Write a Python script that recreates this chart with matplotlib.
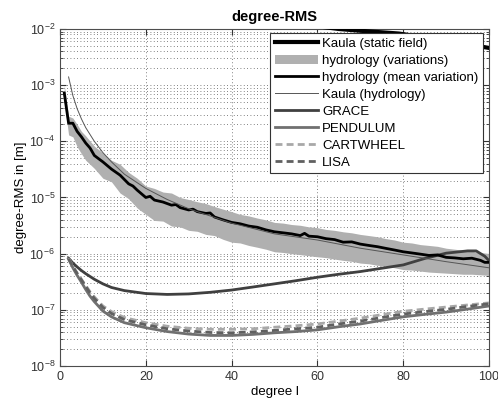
import matplotlib.pyplot as plt
import numpy as np
from matplotlib.ticker import FixedLocator, LogLocator, NullFormatter

plt.rcParams["font.family"] = ["Liberation Sans", "DejaVu Sans"]

# Kaula rule for the static field (mostly above the axes / behind legend)
kaula_static_deg = [60, 65, 70, 79, 90, 100]
kaula_static = [1.12e-2, 1.0e-2, 9.3e-3, 8.3e-3, 6.2e-3, 4.6e-3]

# hydrology mean variation
hyd_mean_deg = [1, 2, 3, 4, 5, 6, 7, 8, 9, 10, 12, 14, 16, 17, 18, 20, 21, 22, 24, 26,
                27, 28, 30, 31, 32, 34, 35, 36, 38, 40, 42, 44, 46, 48, 50, 52, 54, 56,
                57, 58, 60, 62, 64, 66, 68, 70, 72, 74, 76, 78, 80, 82, 84, 86, 88, 90,
                92, 94, 96, 98, 99, 100]
hyd_mean = [7.2e-4, 2.1e-4, 2.1e-4, 1.5e-4, 1.2e-4, 9.3e-5, 7.6e-5, 5.6e-5, 4.9e-5, 4.3e-5,
            3.2e-5, 2.5e-5, 1.75e-5, 1.6e-5, 1.35e-5, 1.0e-5, 1.05e-5, 9.0e-6, 8.3e-6, 7.3e-6,
            7.5e-6, 6.6e-6, 6.0e-6, 6.2e-6, 5.6e-6, 5.2e-6, 5.3e-6, 4.5e-6, 4.0e-6, 3.6e-6,
            3.4e-6, 3.1e-6, 2.95e-6, 2.65e-6, 2.45e-6, 2.35e-6, 2.25e-6, 2.1e-6, 2.3e-6,
            2.05e-6, 2.0e-6, 1.85e-6, 1.78e-6, 1.6e-6, 1.62e-6, 1.48e-6, 1.4e-6, 1.33e-6,
            1.24e-6, 1.16e-6, 1.08e-6, 1.03e-6, 0.98e-6, 0.93e-6, 0.95e-6, 0.86e-6,
            0.84e-6, 0.81e-6, 0.83e-6, 0.76e-6, 0.70e-6, 0.70e-6]

# hydrology variation band
band_deg = [1, 2, 3, 4, 5, 6, 8, 10, 12, 14, 16, 18, 20, 22, 24, 26, 28, 30, 32, 34, 36,
            38, 40, 42, 44, 46, 48, 50, 52, 54, 56, 58, 60, 62, 64, 66, 68, 70, 72, 74,
            76, 78, 80, 82, 84, 86, 88, 90, 92, 94, 96, 98, 100]
band_hi = [1.0e-3, 2.8e-4, 2.6e-4, 2.0e-4, 1.5e-4, 1.25e-4, 8.2e-5, 6.2e-5, 4.6e-5, 3.9e-5,
           2.8e-5, 2.2e-5, 1.6e-5, 1.45e-5, 1.25e-5, 1.2e-5, 1.0e-5, 9.2e-6, 8.4e-6, 7.8e-6,
           6.9e-6, 6.2e-6, 5.6e-6, 5.0e-6, 4.7e-6, 4.3e-6, 4.0e-6, 3.6e-6, 3.5e-6, 3.3e-6,
           3.2e-6, 3.0e-6, 2.9e-6, 2.7e-6, 2.6e-6, 2.45e-6, 2.35e-6, 2.2e-6, 2.1e-6, 2.0e-6,
           1.85e-6, 1.75e-6, 1.6e-6, 1.55e-6, 1.45e-6, 1.4e-6, 1.35e-6, 1.25e-6, 1.2e-6,
           1.15e-6, 1.1e-6, 1.05e-6, 1.0e-6]
band_lo = [5.0e-4, 1.3e-4, 1.2e-4, 8.0e-5, 6.0e-5, 4.6e-5, 3.3e-5, 2.2e-5, 1.9e-5, 1.2e-5,
           9.5e-6, 6.5e-6, 5.0e-6, 3.9e-6, 3.8e-6, 3.1e-6, 3.0e-6, 2.6e-6, 2.5e-6, 2.2e-6,
           2.1e-6, 1.8e-6, 1.6e-6, 1.55e-6, 1.4e-6, 1.3e-6, 1.2e-6, 1.08e-6, 1.05e-6, 1.0e-6,
           9.6e-7, 9.2e-7, 8.8e-7, 8.5e-7, 8.0e-7, 7.6e-7, 7.3e-7, 6.8e-7, 6.6e-7, 6.2e-7,
           6.0e-7, 5.6e-7, 5.2e-7, 5.1e-7, 4.9e-7, 4.7e-7, 4.6e-7, 4.5e-7, 4.4e-7, 4.3e-7,
           4.3e-7, 4.2e-7, 4.1e-7]

# Kaula rule for hydrology
kaula_hyd_deg = [2, 3, 4, 5, 6, 8, 10, 12, 15, 20, 25, 30, 40, 50, 60, 70, 80, 90, 100]
kaula_hyd = [1.4e-3, 6.5e-4, 3.8e-4, 2.5e-4, 1.75e-4, 1.0e-4, 6.3e-5, 4.3e-5, 2.6e-5,
             1.45e-5, 9.2e-6, 6.3e-6, 3.5e-6, 2.25e-6, 1.75e-6, 1.25e-6, 9.5e-7, 7.2e-7, 5.6e-7]

# GRACE
grace_deg = [2, 3, 4, 5, 6, 8, 10, 12, 15, 20, 25, 30, 35, 40, 45, 50, 55, 60, 65, 70,
             75, 80, 85, 90, 95, 97, 99, 100]
grace = [8.3e-7, 6.8e-7, 5.8e-7, 5.0e-7, 4.4e-7, 3.5e-7, 2.9e-7, 2.5e-7, 2.2e-7, 1.95e-7,
         1.88e-7, 1.92e-7, 2.05e-7, 2.25e-7, 2.55e-7, 2.9e-7, 3.3e-7, 3.8e-7, 4.3e-7, 4.8e-7,
         5.5e-7, 6.3e-7, 8.2e-7, 1.02e-6, 1.12e-6, 1.12e-6, 9.0e-7, 7.5e-7]

# gradiometer missions
sat_deg = [2, 3, 4, 5, 6, 7, 8, 10, 12, 15, 20, 25, 30, 35, 40, 45, 50, 55, 60, 65, 70,
           75, 80, 85, 90, 95, 100]
pendulum = [8.0e-7, 5.6e-7, 4.1e-7, 3.1e-7, 2.3e-7, 1.75e-7, 1.4e-7, 9.5e-8, 7.5e-8, 5.9e-8,
            4.8e-8, 4.1e-8, 3.7e-8, 3.5e-8, 3.5e-8, 3.65e-8, 3.9e-8, 4.1e-8, 4.4e-8, 5.0e-8,
            5.6e-8, 6.5e-8, 7.5e-8, 8.3e-8, 9.1e-8, 1.03e-7, 1.17e-7]
cartwheel = [8.2e-7, 6.0e-7, 4.5e-7, 3.5e-7, 2.7e-7, 2.1e-7, 1.7e-7, 1.17e-7, 9.3e-8, 7.3e-8,
             5.9e-8, 5.1e-8, 4.7e-8, 4.5e-8, 4.5e-8, 4.6e-8, 4.9e-8, 5.2e-8, 5.6e-8, 6.3e-8,
             7.1e-8, 8.2e-8, 9.4e-8, 1.03e-7, 1.12e-7, 1.22e-7, 1.33e-7]
lisa = [8.1e-7, 5.9e-7, 4.4e-7, 3.4e-7, 2.6e-7, 2.0e-7, 1.6e-7, 1.1e-7, 8.6e-8, 6.7e-8,
        5.4e-8, 4.6e-8, 4.2e-8, 3.95e-8, 3.9e-8, 4.05e-8, 4.3e-8, 4.6e-8, 4.9e-8, 5.6e-8,
        6.3e-8, 7.3e-8, 8.4e-8, 9.3e-8, 1.02e-7, 1.15e-7, 1.28e-7]

y_ticks = [1e-8, 1e-7, 1e-6, 1e-5, 1e-4, 1e-3, 1e-2]

fig = plt.figure(figsize=(4.98, 4.01), dpi=100)
ax = fig.add_axes([0.1205, 0.0873, 0.8615, 0.8404])

ax.plot(kaula_static_deg, kaula_static, color="k", lw=3, label="Kaula (static field)", zorder=3)
ax.fill_between(band_deg, band_lo, band_hi, color="#b0b0b0", lw=0,
                label="hydrology (variations)", zorder=2)
ax.plot(hyd_mean_deg, hyd_mean, color="k", lw=2, label="hydrology (mean variation)", zorder=4)
ax.plot(kaula_hyd_deg, kaula_hyd, color="#555555", lw=0.7, label="Kaula (hydrology)", zorder=4)
ax.plot(grace_deg, grace, color="#404040", lw=2, label="GRACE", zorder=3)
ax.plot(sat_deg, pendulum, color="#707070", lw=2, label="PENDULUM", zorder=3)
ax.plot(sat_deg, cartwheel, color="#a8a8a8", lw=2, dashes=(2.5, 1.5), label="CARTWHEEL", zorder=3)
ax.plot(sat_deg, lisa, color="#606060", lw=2, dashes=(2.5, 1.5), label="LISA", zorder=3)

ax.set_yscale("log")
ax.set_xlim(0, 100)
ax.set_ylim(1e-8, 1e-2)
ax.set_xticks([0, 20, 40, 60, 80, 100])
ax.yaxis.set_major_locator(FixedLocator(y_ticks))
ax.yaxis.set_minor_locator(LogLocator(base=10, subs=np.arange(2, 10), numticks=10))
ax.yaxis.set_minor_formatter(NullFormatter())

grid_style = dict(ls=(0, (1, 3)), color="0.35", lw=0.6)
ax.grid(True, which="major", **grid_style)
ax.grid(True, which="minor", axis="y", **grid_style)
ax.tick_params(which="both", direction="in", top=True, right=True, labelsize=9, colors="0.2")
ax.tick_params(which="major", length=4)
ax.tick_params(which="minor", length=2)
for s in ax.spines.values():
    s.set_color("0.3")

ax.set_title("degree-RMS", fontsize=10.5, fontweight="bold", pad=6)
ax.set_xlabel("degree l", fontsize=9.5, labelpad=2)
ax.set_ylabel("degree-RMS in [m]", fontsize=9.5, labelpad=2)

leg = ax.legend(loc="upper right", bbox_to_anchor=(0.986, 0.988), fontsize=9.5, frameon=True,
                fancybox=False, framealpha=1, edgecolor="0.2", handlelength=3.3,
                handletextpad=0.3, labelspacing=0.36, borderpad=0.35, borderaxespad=0)
leg.get_frame().set_linewidth(0.8)
leg.set_zorder(10)

fig.savefig("out.png", dpi=100)
